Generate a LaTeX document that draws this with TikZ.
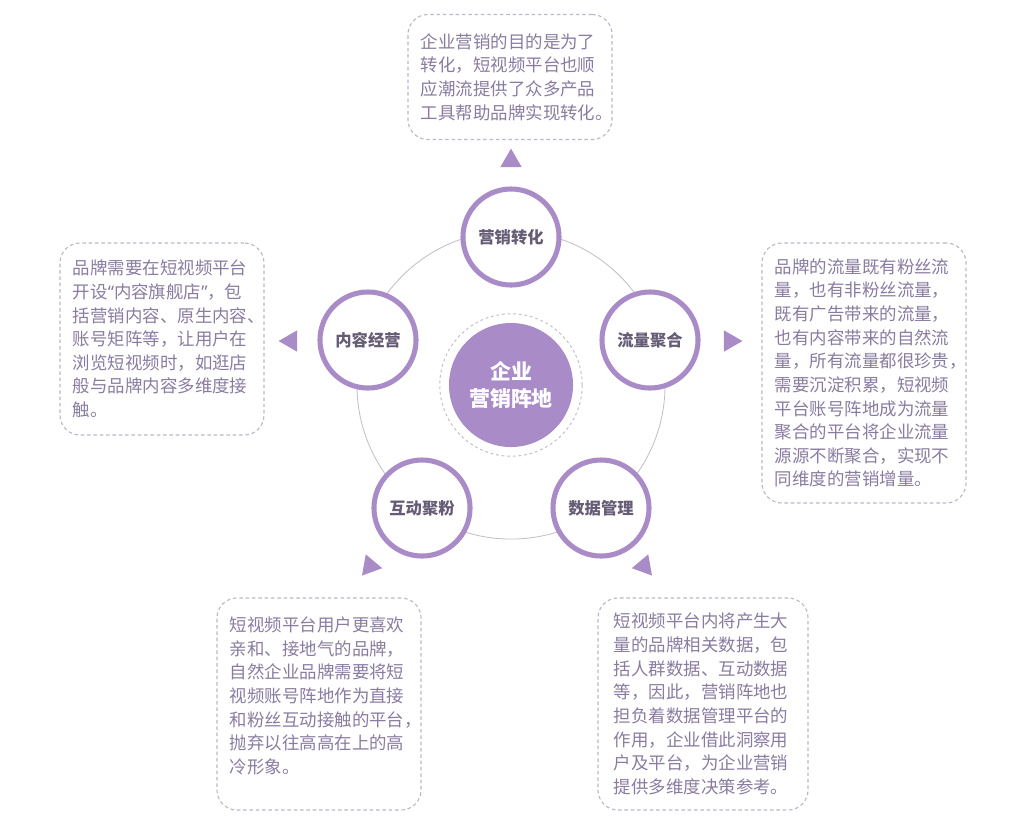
\documentclass[tikz,border=0pt]{standalone}
\usepackage{fontspec}
\newfontfamily\cjk{Noto Sans CJK SC}
\newfontfamily\latin{Noto Sans}
\usepackage{xcolor}
\definecolor{lilac}{RGB}{168,139,199}
\definecolor{plum}{RGB}{102,92,118}
\definecolor{mauve}{RGB}{138,124,160}
\definecolor{mist}{RGB}{190,182,202}
\definecolor{ash}{RGB}{196,192,200}
\usepackage{tikz}
\usetikzlibrary{positioning,calc,shapes.geometric}
\tikzset{
  hubnode/.style={circle, fill=lilac, minimum size=3.1cm, inner sep=0pt,
    text=white, align=center,
    font=\cjk\fontsize{14.9}{19.5}\selectfont\bfseries},
  satnode/.style={circle, draw=lilac, fill=white, line width=3.6pt,
    minimum size=2.4cm, inner sep=0pt, text=plum,
    font=\cjk\fontsize{11.6}{14}\selectfont\bfseries},
  tipnode/.style={regular polygon, regular polygon sides=3, fill=lilac,
    minimum size=0.62cm, inner sep=0pt},
  notebox/.style={draw=mist, line width=0.8pt, dash pattern=on 2.5pt off 2pt,
    rounded corners=0.5cm, text width=4.45cm, inner xsep=0.325cm,
    align=left, text=mauve,
    font=\cjk\fontsize{12.4}{16.8}\selectfont},
}

\begin{document}
\begin{tikzpicture}[x=0.025cm, y=-0.025cm]
\useasboundingbox[fill=white] (0,0) rectangle (1036,825);

\draw[ash, line width=0.6pt] (511,385) circle[radius=3.85cm];
\node[hubnode] (hub) at (511,385) {企业\\营销阵地};
\draw[ash, line width=0.7pt, dash pattern=on 2pt off 2pt] (hub) circle[radius=1.78cm];

\foreach \name/\x/\y/\txt/\tx/\ty/\rot in {sale/511/237/营销转化/511/161/0,
    flow/650/340/流量聚合/730/341/-90, data/601/508/数据管理/644/566/-140,
    fans/422/508/互动聚粉/370/566/-220, content/368/340/内容经营/291/341/90}{
  \node[satnode] (\name) at (\x,\y) {\txt};
  \node[tipnode, shape border rotate=\rot] (tip\name) at (\tx,\ty) {};
}

\node[notebox, minimum height=3.125cm] (notesale) at (510,77) {%
  企业营销的目的是为了\\转化，短视频平台也顺\\应潮流提供了众多产品\\工具帮助品牌实现转化。};
\node[notebox, minimum height=4.8cm] (notecontent) at (162,339) {%
  品牌需要在短视频平台\\开设{\latin“}内容旗舰店{\latin”}，包\\括营销内容、原生内容、\\账号矩阵等，让用户在\\浏览短视频时，如逛店\\般与品牌内容多维度接\\触。};
\node[notebox, minimum height=6.5cm] (noteflow) at (864,373) {%
  品牌的流量既有粉丝流\\量，也有非粉丝流量，\\既有广告带来的流量，\\也有内容带来的自然流\\量，所有流量都很珍贵，\\需要沉淀积累，短视频\\平台账号阵地成为流量\\聚合的平台将企业流量\\源源不断聚合，实现不\\同维度的营销增量。};
\node[notebox, minimum height=5.3cm] (notefans) at (319,704) {%
  短视频平台用户更喜欢\\亲和、接地气的品牌，\\自然企业品牌需要将短\\视频账号阵地作为直接\\和粉丝互动接触的平台，\\抛弃以往高高在上的高\\冷形象。\\[-4pt]\mbox{}};
\node[notebox, minimum height=5.3cm, minimum width=5.25cm] (notedata) at (703,704) {%
  短视频平台内将产生大\\量的品牌相关数据，包\\括人群数据、互动数据\\等，因此，营销阵地也\\担负着数据管理平台的\\作用，企业借此洞察用\\户及平台，为企业营销\\提供多维度决策参考。};
\end{tikzpicture}
\end{document}
